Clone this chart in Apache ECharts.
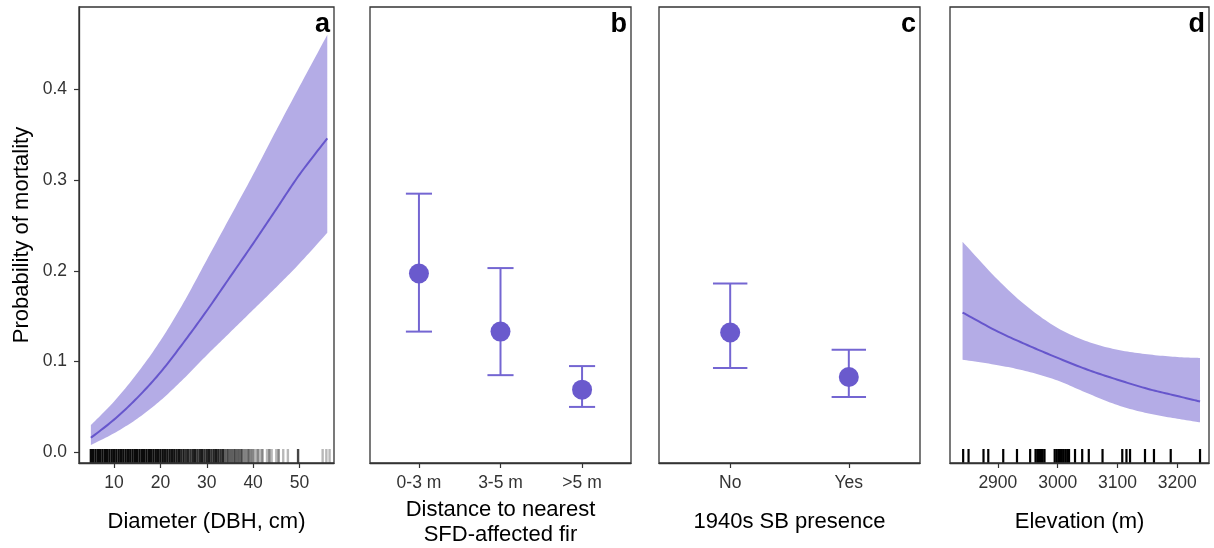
<!DOCTYPE html>
<html>
<head>
<meta charset="utf-8">
<script src="https://cdn.jsdelivr.net/npm/echarts@6/dist/echarts.min.js"></script>
<style>html,body{margin:0;padding:0;background:#fff}#c{width:1214px;height:548px}</style>
</head>
<body>
<div id="c"></div>
<script>
// ---- Panel a: diameter (DBH) ----
const diamX     = [5, 10, 15, 20, 25, 30, 35, 40, 45, 50, 56];
const diamMean  = [0.016, 0.036, 0.060, 0.088, 0.121, 0.156, 0.193, 0.230, 0.268, 0.306, 0.346];
const diamLower = [0.008, 0.021, 0.037, 0.057, 0.081, 0.107, 0.132, 0.157, 0.182, 0.208, 0.242];
const diamUpper = [0.030, 0.056, 0.087, 0.123, 0.165, 0.212, 0.259, 0.306, 0.355, 0.403, 0.460];
const diamTicks = [10, 20, 30, 40, 50];
// rug of observed DBH values (cm) and number of trees at each
const rugDBH = [5,5.5,6,6.5,7,7.5,8,8.5,9,9.5,10,10.5,11,11.5,12,12.5,13,13.5,14,14.5,15,15.5,16,16.5,17,17.5,18,18.5,19,19.5,20,20.5,21,21.5,22,22.5,23,23.5,24,24.5,25,25.5,26,26.5,27,27.5,28,28.5,29,29.5,30,30.5,31,31.5,32,32.5,33,33.5,34,34.5,35,35.5,36,36.5,37,37.5,38,38.5,39,39.5,40,40.5,41,41.5,42,43,43.5,44,45,45.5,46.5,47.5,49.7,55.0,55.8,56.5];
const rugDBHCount = [10,10,10,10,10,10,10,10,10,10,10,10,10,10,10,10,10,10,10,10,10,10,10,10,10,10,9,9,9,9,9,9,8,8,8,8,8,7,8,6,7,5,6,5,6,7,5,6,7,5,6,7,5,6,7,6,5,6,3,4,3,3,4,3,3,4,2,2,3,2,2,1,2,1,2,1,2,1,1,2,1,1,4,1,1,1];

// ---- Panel b: distance to nearest SFD-affected fir ----
const distCats  = ['0-3 m', '3-5 m', '>5 m'];
const distMean  = [0.197, 0.133, 0.069];
const distLower = [0.133, 0.085, 0.050];
const distUpper = [0.285, 0.203, 0.095];

// ---- Panel c: 1940s SB presence ----
const sbCats  = ['No', 'Yes'];
const sbMean  = [0.132, 0.083];
const sbLower = [0.093, 0.061];
const sbUpper = [0.186, 0.113];

// ---- Panel d: elevation ----
const elevX     = [2841, 2900, 2950, 3000, 3050, 3100, 3150, 3200, 3238];
const elevMean  = [0.154, 0.133, 0.118, 0.104, 0.091, 0.080, 0.070, 0.062, 0.056];
const elevLower = [0.102, 0.096, 0.089, 0.079, 0.065, 0.052, 0.043, 0.037, 0.033];
const elevUpper = [0.232, 0.190, 0.160, 0.137, 0.122, 0.113, 0.108, 0.105, 0.104];
const elevTicks = [2900, 3000, 3100, 3200];
const rugElev = [2842,2851,2876,2884,2909,2932,2954,2963,2966,2969,2972,2975,2978,2995,2998,3001,3004,3007,3010,3013,3016,3019,3029,3041,3052,3075,3108,3115,3121,3146,3161,3189,3238];

const yTicks = [0, 0.1, 0.2, 0.3, 0.4];
const Y_MIN = -0.0118, Y_MAX = 0.4907;

const FONT = 'Liberation Sans, Arial, Helvetica, sans-serif';
const LINE = '#6656cc';
const BAND = '#b4ace6';
const PT = '#6a5acd';
const EB = '#7466d2';
const AX = '#333';
const TICK_FS = 17.5, TITLE_FS = 22;

const chart = echarts.init(document.getElementById('c'), null, {renderer: 'canvas'});

const grids = [
  {left: 79, width: 255, top: 7, height: 456},
  {left: 370, width: 261, top: 7, height: 456},
  {left: 659, width: 261, top: 7, height: 456},
  {left: 950, width: 259, top: 7, height: 456}
].map(g => Object.assign(g, {show: true, z: 10, borderColor: AX, borderWidth: 1.3, backgroundColor: 'transparent',
  containLabel: false, outerBoundsMode: 'none'}));

function xAxis(i, min, max, ticks, fmt, name, gap) {
  return {
    type: 'value', gridIndex: i, min: min, max: max, z: 10,
    axisLine: {show: true, onZero: false, lineStyle: {color: AX, width: 1.3}},
    axisTick: {show: true, length: 5, lineStyle: {color: AX, width: 1.2}, customValues: ticks},
    axisLabel: {show: true, customValues: ticks, formatter: fmt, color: '#333', fontSize: TICK_FS, fontFamily: FONT, margin: 11},
    splitLine: {show: false},
    name: name, nameLocation: 'middle', nameGap: gap,
    nameTextStyle: {color: '#000', fontSize: TITLE_FS, fontFamily: FONT, lineHeight: 25}
  };
}
function yAxis(i, showLab) {
  return {
    type: 'value', gridIndex: i, min: Y_MIN, max: Y_MAX, z: 10,
    axisLine: {show: showLab, onZero: false, lineStyle: {color: AX, width: 1.3}},
    axisTick: {show: showLab, length: 5, lineStyle: {color: AX, width: 1.2}, customValues: yTicks},
    axisLabel: {show: showLab, customValues: yTicks, formatter: v => Number(v).toFixed(1), color: '#333', fontSize: TICK_FS, fontFamily: FONT, margin: 12},
    splitLine: {show: false},
    name: showLab ? 'Probability of mortality' : '', nameLocation: 'middle', nameGap: 46, nameRotate: 90,
    nameTextStyle: {color: '#000', fontSize: TITLE_FS, fontFamily: FONT}
  };
}

// Catmull-Rom spline through pixel points (curve drawn through the axis scales)
function spline(pts) {
  const out = [];
  const n = pts.length;
  for (let i = 0; i < n - 1; i++) {
    const p0 = pts[Math.max(i - 1, 0)], p1 = pts[i], p2 = pts[i + 1], p3 = pts[Math.min(i + 2, n - 1)];
    const c1 = [p1[0] + (p2[0] - p0[0]) / 6, p1[1] + (p2[1] - p0[1]) / 6];
    const c2 = [p2[0] - (p3[0] - p1[0]) / 6, p2[1] - (p3[1] - p1[1]) / 6];
    const steps = 12;
    for (let s = 0; s < steps; s++) {
      const t = s / steps, u = 1 - t;
      out.push([
        u*u*u*p1[0] + 3*u*u*t*c1[0] + 3*u*t*t*c2[0] + t*t*t*p2[0],
        u*u*u*p1[1] + 3*u*u*t*c1[1] + 3*u*t*t*c2[1] + t*t*t*p2[1]
      ]);
    }
  }
  out.push(pts[n - 1]);
  return out;
}

function bandSeries(idx, xs, lo, hi) {
  return {
    type: 'custom', xAxisIndex: idx, yAxisIndex: idx, z: 1, silent: true,
    data: xs.map((x, i) => [x, lo[i], hi[i]]),
    renderItem: function (params, api) {
      if (params.dataIndex !== 0) return null;
      const up = spline(xs.map((x, i) => api.coord([x, hi[i]])));
      const dn = spline(xs.map((x, i) => api.coord([x, lo[i]])));
      return {type: 'polygon', shape: {points: up.concat(dn.reverse())}, style: {fill: BAND, stroke: null}};
    }
  };
}
function meanSeries(idx, xs, m) {
  return {
    type: 'custom', xAxisIndex: idx, yAxisIndex: idx, z: 3, silent: true,
    data: xs.map((x, i) => [x, m[i]]),
    renderItem: function (params, api) {
      if (params.dataIndex !== 0) return null;
      const pts = spline(xs.map((x, i) => api.coord([x, m[i]])));
      return {type: 'polyline', shape: {points: pts}, style: {stroke: LINE, lineWidth: 2, fill: null}};
    }
  };
}
function rugSeries(idx, data, w) {
  return {
    type: 'custom', xAxisIndex: idx, yAxisIndex: idx, data: data, z: 4, silent: true,
    renderItem: function (params, api) {
      const p = api.coord([api.value(0), Y_MIN]);
      const cs = params.coordSys;
      const bottom = cs.y + cs.height;
      return {type: 'line', shape: {x1: p[0], y1: bottom, x2: p[0], y2: bottom - 14},
        style: {stroke: '#000', lineWidth: w, opacity: api.value(1)}};
    }
  };
}
function errSeries(idx, lo, hi, halfW) {
  return {
    type: 'custom', xAxisIndex: idx, yAxisIndex: idx, z: 3, silent: true,
    data: lo.map((v, i) => [i + 1, v, hi[i]]),
    renderItem: function (params, api) {
      const x = api.value(0);
      const a = api.coord([x, api.value(1)]);
      const b = api.coord([x, api.value(2)]);
      const l1 = api.coord([x - halfW, api.value(1)]);
      const r1 = api.coord([x + halfW, api.value(1)]);
      const l2 = api.coord([x - halfW, api.value(2)]);
      const r2 = api.coord([x + halfW, api.value(2)]);
      const st = {stroke: EB, lineWidth: 2, fill: null};
      return {type: 'group', children: [
        {type: 'line', shape: {x1: a[0], y1: a[1], x2: b[0], y2: b[1]}, style: st},
        {type: 'line', shape: {x1: l1[0], y1: l1[1], x2: r1[0], y2: r1[1]}, style: st},
        {type: 'line', shape: {x1: l2[0], y1: l2[1], x2: r2[0], y2: r2[1]}, style: st}
      ]};
    }
  };
}
function pointSeries(idx, m) {
  return {type: 'scatter', xAxisIndex: idx, yAxisIndex: idx, symbol: 'circle', symbolSize: 20,
    data: m.map((v, i) => [i + 1, v]), itemStyle: {color: PT, opacity: 1}, z: 5};
}

const panelLetters = ['a', 'b', 'c', 'd'];
const graphics = grids.map((g, i) => ({
  type: 'text', z: 100,
  style: {text: panelLetters[i], x: g.left + g.width - 4, y: 25, align: 'right', verticalAlign: 'middle',
    font: 'bold 27px ' + FONT, fill: '#000'}
}));

const option = {
  animation: false,
  backgroundColor: '#fff',
  grid: grids,
  xAxis: [
    xAxis(0, 2.44, 57.45, diamTicks, v => String(v), 'Diameter (DBH, cm)', 46),
    xAxis(1, 0.4, 3.6, [1, 2, 3], v => distCats[Math.round(v) - 1], 'Distance to nearest\nSFD-affected fir', 34),
    xAxis(2, 0.4, 2.6, [1, 2], v => sbCats[Math.round(v) - 1], '1940s SB presence', 46),
    xAxis(3, 2820, 3253, elevTicks, v => String(v), 'Elevation (m)', 46)
  ],
  yAxis: [yAxis(0, true), yAxis(1, false), yAxis(2, false), yAxis(3, false)],
  graphic: graphics,
  series: [
    bandSeries(0, diamX, diamLower, diamUpper),
    meanSeries(0, diamX, diamMean),
    rugSeries(0, rugDBH.map((v, i) => [v, 1 - Math.pow(0.72, rugDBHCount[i])]), 2.4),
    errSeries(1, distLower, distUpper, 0.16),
    pointSeries(1, distMean),
    errSeries(2, sbLower, sbUpper, 0.145),
    pointSeries(2, sbMean),
    bandSeries(3, elevX, elevLower, elevUpper),
    meanSeries(3, elevX, elevMean),
    rugSeries(3, rugElev.map(v => [v, 1]), 2.2)
  ]
};
chart.setOption(option);
</script>
</body>
</html>
